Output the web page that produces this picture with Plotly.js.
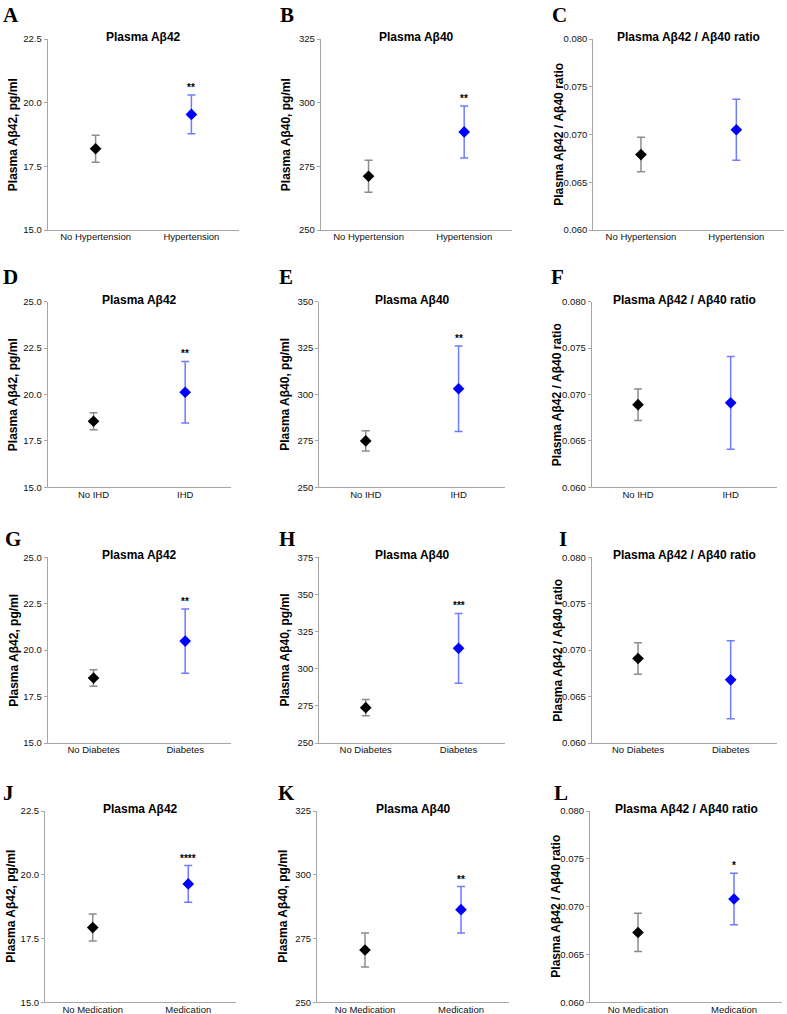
<!DOCTYPE html>
<html>
<head>
<meta charset="utf-8">
<script src="https://cdn.plot.ly/plotly-3.0.1.min.js"></script>
<style>html,body{margin:0;padding:0;background:#fff;}#chart{width:787px;height:1014px;}</style>
</head>
<body>
<div id="chart"></div>
<script>
// ---- data ----
const panelLetters = ['A','B','C','D','E','F','G','H','I','J','K','L'];
const conditionNo  = ['No Hypertension','No IHD','No Diabetes','No Medication'];
const conditionYes = ['Hypertension','IHD','Diabetes','Medication'];
const panelTitles  = ['Plasma Aβ42','Plasma Aβ40','Plasma Aβ42 / Aβ40 ratio'];
const yTitles      = ['Plasma Aβ42, pg/ml','Plasma Aβ40, pg/ml','Plasma Aβ42 / Aβ40 ratio'];

const ab42Mean = [[18.19,19.54],[18.56,20.12],[18.50,20.49],[17.93,19.64]];
const ab42Err  = [[0.53,0.76],[0.46,1.66],[0.44,1.73],[0.53,0.72]];
const ab42Stars = ['**','**','**','****'];
const ab42Max = [22.5,25,25,22.5];

const ab40Mean = [[271.1,288.5],[275.0,303.1],[273.8,313.7],[270.5,286.3]];
const ab40Err  = [[6.3,10.2],[5.5,23.0],[5.5,23.5],[6.7,9.1]];
const ab40Stars = ['**','**','***','**'];
const ab40Max = [325,350,375,325];

const ratioMean = [[0.0679,0.0705],[0.0689,0.0691],[0.0691,0.0668],[0.0673,0.0708]];
const ratioErr  = [[0.0018,0.0032],[0.0017,0.0050],[0.0017,0.0042],[0.0020,0.0027]];
const ratioStars = ['','','','*'];
const ratioMax = [0.080,0.080,0.080,0.080];

const yMin = [15, 250, 0.060];
const yStep = [2.5, 25, 0.005];
const yFormat = ['.1f','.0f','.3f'];

// ---- geometry (pixels) ----
const W = 787, H = 1014;
const rows = [{top:39,bot:230},{top:301.7,bot:487.3},{top:557.3,bot:743},{top:811,bot:1002.3}];
const cols = [
  [[47.7,239.3],[320.7,512],[593.3,784]],
  [[47.7,231],[319.3,505],[591.7,777]],
  [[47.7,231],[319.3,505],[591.7,777]],
  [[45,236],[317,509],[590,782]]
];
const labelPos = [
  [[2,15],[279,15],[551,15]],
  [[2,277],[278,277],[550,277]],
  [[4,539],[278,539],[558,539]],
  [[2,793],[277,793],[553,793]]
];

const FONT = 'Liberation Sans, Arial, Helvetica, sans-serif';
const colNo = '#000000', colYes = '#0000ff';
const errNo = '#8c8c8c', errYes = '#6f7cff';

const traces = [];
const layout = {
  width: W, height: H,
  margin: {l:0, r:0, t:0, b:0},
  paper_bgcolor: '#fff', plot_bgcolor: '#fff',
  showlegend: false,
  font: {family: FONT, color: '#000', size: 9},
  annotations: []
};

const measures = [
  {mean: ab42Mean, err: ab42Err, stars: ab42Stars, max: ab42Max},
  {mean: ab40Mean, err: ab40Err, stars: ab40Stars, max: ab40Max},
  {mean: ratioMean, err: ratioErr, stars: ratioStars, max: ratioMax}
];

for (let r = 0; r < 4; r++) {
  for (let c = 0; c < 3; c++) {
    const idx = r*3 + c + 1;
    const xa = idx === 1 ? 'x' : 'x' + idx;
    const ya = idx === 1 ? 'y' : 'y' + idx;
    const xk = idx === 1 ? 'xaxis' : 'xaxis' + idx;
    const yk = idx === 1 ? 'yaxis' : 'yaxis' + idx;
    const m = measures[c];
    const cats = [conditionNo[r], conditionYes[r]];
    const [x0, x1] = cols[r][c];
    const top = rows[r].top, bot = rows[r].bot;

    traces.push({
      type: 'scatter', mode: 'markers', xaxis: xa, yaxis: ya,
      x: [cats[0]], y: [m.mean[r][0]],
      marker: {symbol: 'diamond', size: 9, color: colNo},
      error_y: {type: 'data', array: [m.err[r][0]], color: errNo, thickness: 1.5, width: 4},
      hoverinfo: 'skip'
    });
    traces.push({
      type: 'scatter', mode: 'markers', xaxis: xa, yaxis: ya,
      x: [cats[1]], y: [m.mean[r][1]],
      marker: {symbol: 'diamond', size: 9, color: colYes},
      error_y: {type: 'data', array: [m.err[r][1]], color: errYes, thickness: 1.5, width: 4},
      hoverinfo: 'skip'
    });

    layout[xk] = {
      domain: [x0 / W, x1 / W],
      anchor: ya, type: 'category', categoryorder: 'array', categoryarray: cats,
      range: [-0.5, 1.5], showgrid: false, zeroline: false,
      showline: true, linecolor: '#a6a6a6', linewidth: 1,
      ticks: '', ticklabelstandoff: -2,
      tickfont: {family: FONT, size: 9.5, color: '#111'},
      fixedrange: true
    };
    layout[yk] = {
      domain: [1 - bot / H, 1 - top / H],
      anchor: xa, range: [yMin[c], m.max[r]],
      tick0: yMin[c], dtick: yStep[c], tickformat: yFormat[c],
      showgrid: false, zeroline: false,
      showline: true, linecolor: '#a6a6a6', linewidth: 1,
      ticks: 'outside', ticklen: 3, tickcolor: '#a6a6a6', tickwidth: 1,
      tickfont: {family: FONT, size: 9.5, color: '#111'},
      fixedrange: true
    };

    // panel title
    layout.annotations.push({
      xref: 'paper', yref: 'paper', x: ((x0 + x1) / 2) / W, y: 1 - top / H,
      xanchor: 'center', yanchor: 'middle', yshift: 2, showarrow: false,
      text: '<b>' + panelTitles[c] + '</b>', font: {family: FONT, size: 12, color: '#000'}
    });
    // y-axis title
    layout.annotations.push({
      xref: 'paper', yref: 'paper', x: (x0 - 34) / W, y: 1 - ((top + bot) / 2) / H,
      xanchor: 'center', yanchor: 'middle', textangle: -90, showarrow: false,
      text: '<b>' + yTitles[c] + '</b>', font: {family: FONT, size: 12, color: '#000'}
    });
    // panel letter
    const lp = labelPos[r][c];
    layout.annotations.push({
      xref: 'paper', yref: 'paper', x: lp[0] / W, y: 1 - lp[1] / H,
      xanchor: 'left', yanchor: 'middle', showarrow: false, borderpad: 0,
      text: '<b>' + panelLetters[idx - 1] + '</b>',
      font: {family: 'Liberation Serif, Times New Roman, serif', size: 21, color: '#000'}
    });
    // significance stars
    if (m.stars[r]) {
      layout.annotations.push({
        xref: xa, yref: ya, x: cats[1], y: m.mean[r][1] + m.err[r][1],
        xanchor: 'center', yanchor: 'bottom', yshift: 0, showarrow: false,
        text: '<b>' + m.stars[r] + '</b>', font: {family: FONT, size: 10, color: '#000'}
      });
    }
  }
}

Plotly.newPlot('chart', traces, layout, {displayModeBar: false, staticPlot: true});
</script>
</body>
</html>
